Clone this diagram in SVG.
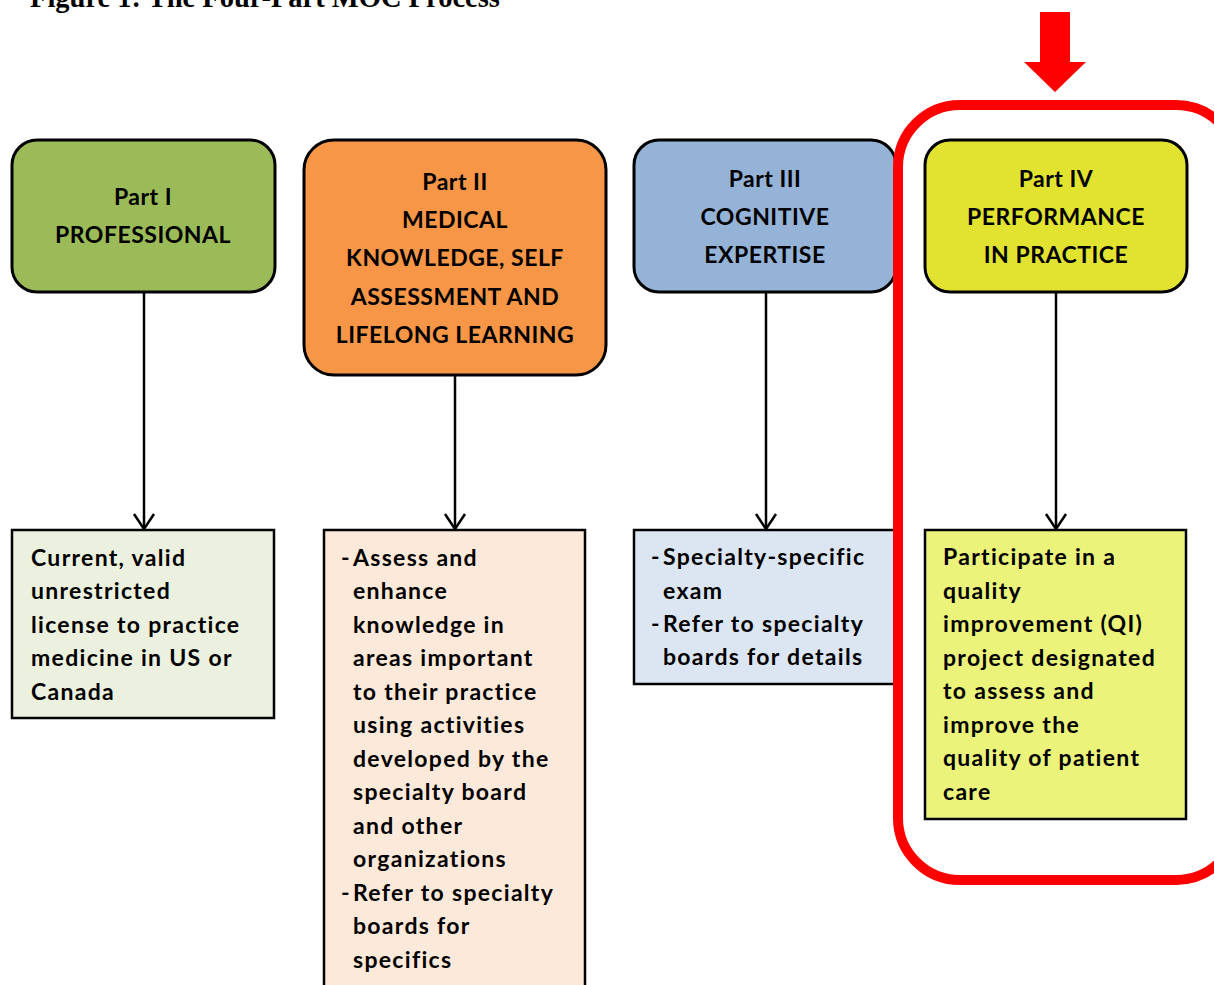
<svg xmlns="http://www.w3.org/2000/svg" width="1214" height="985" viewBox="0 0 1214 985">
<defs>
<style>
.hdr{stroke:#000;stroke-width:3}
.box{stroke:#000;stroke-width:2.5}
.t{font-family:Lato,"Open Sans",sans-serif;font-weight:bold;font-size:23px;fill:#000}
.b{letter-spacing:1.3px}
.h{letter-spacing:0.5px}
.c{text-anchor:middle}
.title{font-family:"Liberation Serif",serif;font-weight:bold;font-size:28.5px;fill:#000}
.conn{stroke:#000;stroke-width:2.5;fill:none}
</style>
<marker id="arr" viewBox="0 0 20 24" refX="18" refY="12" markerWidth="20" markerHeight="24" markerUnits="userSpaceOnUse" orient="auto">
<path d="M3,2 L18,12 L3,22" fill="none" stroke="#000" stroke-width="2.5"/>
</marker>
</defs>
<rect width="1214" height="985" fill="#fff"/>
<text class="title" x="30" y="7">Figure 1: The Four-Part MOC Process</text>

<g id="connectors">
<line class="conn" x1="144" y1="292" x2="144" y2="529" marker-end="url(#arr)"/>
<line class="conn" x1="455" y1="375" x2="455" y2="529" marker-end="url(#arr)"/>
<line class="conn" x1="766" y1="292" x2="766" y2="529" marker-end="url(#arr)"/>
<line class="conn" x1="1056" y1="292" x2="1056" y2="529" marker-end="url(#arr)"/>
</g>

<g id="part1">
<rect class="hdr" x="12" y="140" width="263" height="152" rx="25" fill="#9BBB59"/>
<text class="t c h" x="143" y="205">Part I</text>
<text class="t c h" x="143" y="243">PROFESSIONAL</text>
</g>
<g id="part2">
<rect class="hdr" x="304" y="140" width="302" height="235" rx="30" fill="#F79646"/>
<text class="t c h" x="455" y="190">Part II</text>
<text class="t c h" x="455" y="228">MEDICAL</text>
<text class="t c h" x="455" y="266">KNOWLEDGE, SELF</text>
<text class="t c h" x="455" y="305">ASSESSMENT AND</text>
<text class="t c h" x="455" y="343">LIFELONG LEARNING</text>
</g>
<g id="part3">
<rect class="hdr" x="634" y="140" width="262" height="152" rx="25" fill="#95B3D7"/>
<text class="t c h" x="765" y="187">Part III</text>
<text class="t c h" x="765" y="225">COGNITIVE</text>
<text class="t c h" x="765" y="263">EXPERTISE</text>
</g>
<g id="part4">
<rect class="hdr" x="925" y="140" width="262" height="152" rx="25" fill="#E2E330"/>
<text class="t c h" x="1056" y="187">Part IV</text>
<text class="t c h" x="1056" y="225">PERFORMANCE</text>
<text class="t c h" x="1056" y="263">IN PRACTICE</text>
</g>

<g id="detail1">
<rect class="box" x="12" y="530" width="262" height="188" fill="#EBF1DE"/>
<text class="t b" x="31" y="566">Current, valid</text>
<text class="t b" x="31" y="599">unrestricted</text>
<text class="t b" x="31" y="633">license to practice</text>
<text class="t b" x="31" y="666">medicine in US or</text>
<text class="t b" x="31" y="700">Canada</text>
</g>
<g id="detail2">
<rect class="box" x="324" y="530" width="261" height="470" fill="#FDE9D9"/>
<text class="t" x="341" y="566">-</text><text class="t b" x="353" y="566">Assess and</text>
<text class="t b" x="353" y="599">enhance</text>
<text class="t b" x="353" y="633">knowledge in</text>
<text class="t b" x="353" y="666">areas important</text>
<text class="t b" x="353" y="700">to their practice</text>
<text class="t b" x="353" y="733">using activities</text>
<text class="t b" x="353" y="767">developed by the</text>
<text class="t b" x="353" y="800">specialty board</text>
<text class="t b" x="353" y="834">and other</text>
<text class="t b" x="353" y="867">organizations</text>
<text class="t" x="341" y="901">-</text><text class="t b" x="353" y="901">Refer to specialty</text>
<text class="t b" x="353" y="934">boards for</text>
<text class="t b" x="353" y="968">specifics</text>
</g>
<g id="detail3">
<rect class="box" x="634" y="530" width="262" height="154" fill="#DCE6F2"/>
<text class="t" x="651" y="565">-</text><text class="t b" x="663" y="565">Specialty-specific</text>
<text class="t b" x="663" y="599">exam</text>
<text class="t" x="651" y="632">-</text><text class="t b" x="663" y="632">Refer to specialty</text>
<text class="t b" x="663" y="665">boards for details</text>
</g>
<g id="detail4">
<rect class="box" x="925" y="530" width="261" height="289" fill="#EBF37B"/>
<text class="t b" x="943" y="565">Participate in a</text>
<text class="t b" x="943" y="599">quality</text>
<text class="t b" x="943" y="632">improvement (QI)</text>
<text class="t b" x="943" y="666">project designated</text>
<text class="t b" x="943" y="699">to assess and</text>
<text class="t b" x="943" y="733">improve the</text>
<text class="t b" x="943" y="766">quality of patient</text>
<text class="t b" x="943" y="800">care</text>
</g>

<g id="highlight">
<rect x="898" y="105" width="340" height="775" rx="62" ry="62" fill="none" stroke="#ff0000" stroke-width="10"/>
<polygon points="1040,12 1070,12 1070,62 1086,62 1055,92 1024,62 1040,62" fill="#ff0000"/>
</g>
</svg>
